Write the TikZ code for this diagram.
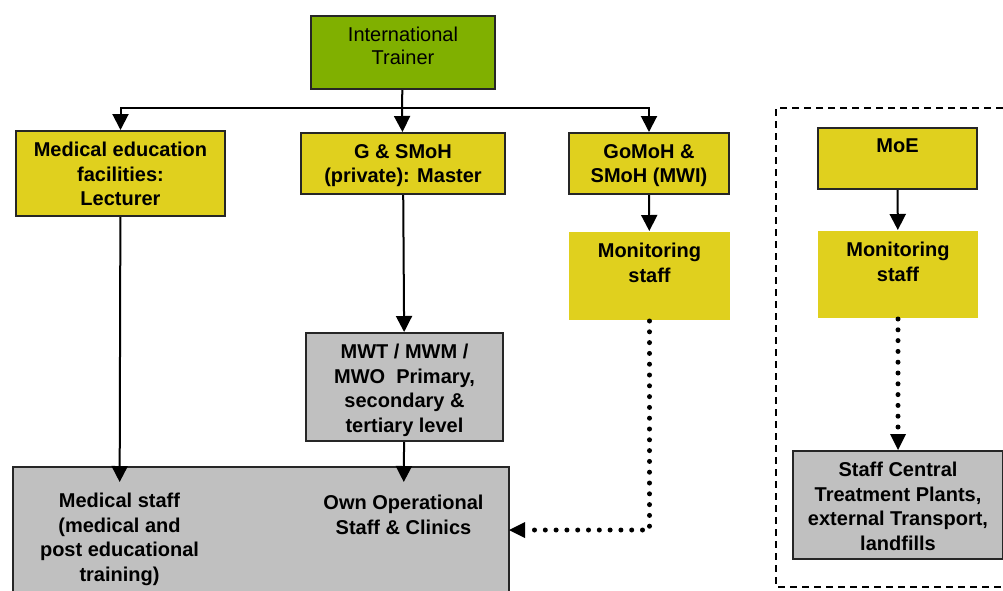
\documentclass[tikz,border=0pt]{standalone}
\usepackage{fontspec}
\setmainfont{Liberation Sans}
\usetikzlibrary{arrows.meta,positioning}

\definecolor{trainergreen}{RGB}{128,176,0}
\definecolor{boxyellow}{RGB}{224,208,30}
\definecolor{boxgrey}{RGB}{192,192,192}

\begin{document}
\begin{tikzpicture}[x=1pt, y=-1pt,
	box/.style={draw=black!85, line width=2pt, anchor=north west, inner sep=0pt},
	ybox/.style={box, fill=boxyellow},
	gbox/.style={box, fill=boxgrey},
	lbl/.style={inner sep=0pt, align=center, font=\fontsize{20}{24.5}\selectfont\bfseries},
	arr/.style={line width=2pt, -{Triangle[length=16pt,width=16pt]}},
	dotarr/.style={line width=5pt, line cap=round, dash pattern=on 0pt off 10.8pt,
		-{Triangle[length=16pt,width=16pt,line width=0pt]}},
]
\useasboundingbox (0,0) rectangle (1003,590);
\clip (0,0) rectangle (1003,590);

% boxes
\node[box, fill=trainergreen, minimum width=184pt, minimum height=73pt] (trainer) at (310,15) {};
\node[ybox, minimum width=209pt, minimum height=85pt] (edu) at (15,130) {};
\node[ybox, minimum width=204pt, minimum height=61pt] (gsmoh) at (300,132) {};
\node[ybox, minimum width=160pt, minimum height=61pt] (gomoh) at (568,132) {};
\node[ybox, draw=none, minimum width=161pt, minimum height=88pt] (mon1) at (568,231) {};
\node[gbox, minimum width=197pt, minimum height=108pt] (mwt) at (305,332) {};
\node[gbox, minimum width=496pt, minimum height=140pt] (staff) at (12,466) {};

\node[ybox, minimum width=159pt, minimum height=61pt] (moe) at (817,127) {};
\node[ybox, draw=none, minimum width=160pt, minimum height=87pt] (mon2) at (817,230) {};
\node[gbox, minimum width=210pt, minimum height=108pt] (plants) at (792,450) {};

% dashed frame of the MoE part
\draw[line width=1.6pt, dash pattern=on 7pt off 5pt] (1003,108) -| (776,587) -- (1003,587);

% texts
\node[lbl, font=\fontsize{20}{23}\selectfont, below=12pt of trainer.north] (trainerT) {International\\Trainer};
\node[lbl, below=12pt of edu.north] (eduT) {Medical education\\facilities:\\Lecturer};
\node[lbl, below=12pt of gsmoh.north] (gsmohT) {G \& SMoH\\(private): Master};
\node[lbl, below=12pt of gomoh.north] (gomohT) {GoMoH \&\\SMoH (MWI)};
\node[lbl, below=12pt of mon1.north] (mon1T) {Monitoring\\staff};
\node[lbl, below=12pt of mwt.north] (mwtT) {MWT / MWM /\\MWO\ \ Primary,\\secondary \&\\tertiary level};
\node[lbl, anchor=north] (medT) at (119.5,493) {Medical staff\\(medical and\\post educational\\training)};
\node[lbl, anchor=north] (ownT) at (403.5,495) {Own Operational\\Staff \& Clinics};
\node[lbl, below=12pt of moe.north] (moeT) {MoE};
\node[lbl, below=12pt of mon2.north] (mon2T) {Monitoring\\staff};
\node[lbl, below=12pt of plants.north] (plantsT) {Staff Central\\Treatment Plants,\\external Transport,\\landfills};

% connectors
\coordinate (split) at (402,108);
\coordinate (dotEnd) at (509,530);
\draw[line width=2pt] (trainer) -- (split);
\draw[arr] (split) -| (edu);
\draw[arr] (split) -- (gsmoh);
\draw[arr] (split) -| (gomoh);
\draw[arr] (gsmoh) -- (mwt);
\draw[arr] (gomoh) -- (mon1);
\draw[arr] (moe) -- (mon2);
\draw[arr, shorten >=11pt] (edu) -- (medT);
\draw[arr, shorten >=13pt] (mwt) -- (ownT);
\draw[dotarr] (mon1) |- (dotEnd);
\draw[dotarr] (mon2) -- (plants);
\end{tikzpicture}
\end{document}
